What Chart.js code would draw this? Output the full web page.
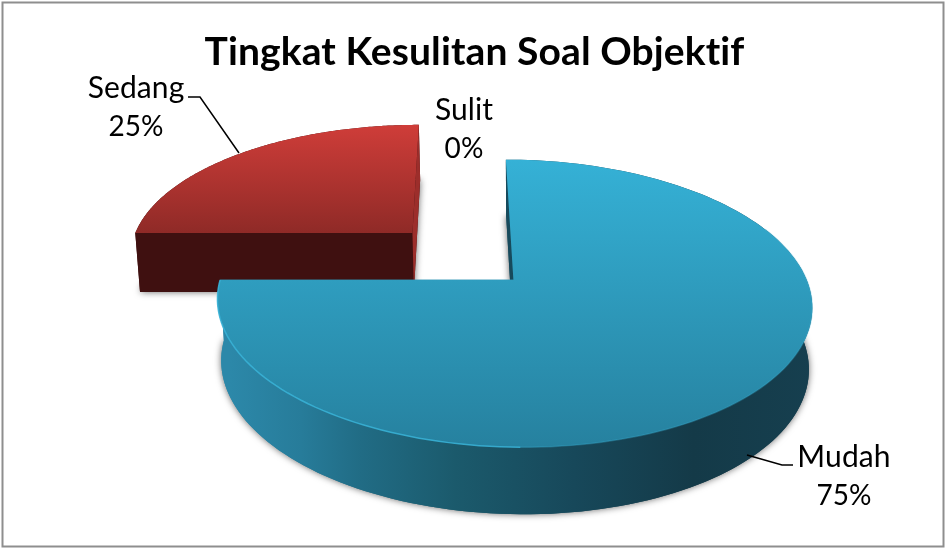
<!DOCTYPE html>
<html>
<head>
<meta charset="utf-8">
<style>
  html, body { margin: 0; padding: 0; background: #fff; }
  #wrap { width: 946px; height: 549px; }
</style>
<script src="https://cdn.jsdelivr.net/npm/chart.js@4/dist/chart.umd.js"></script>
</head>
<body>
<div id="wrap"><canvas id="pie" width="946" height="549"></canvas></div>
<script>
const chartTitle = "Tingkat Kesulitan Soal Objektif";
const categories = ["Mudah", "Sedang", "Sulit"];
const values = [75, 25, 0];

// perspective used to lay the flat pie down (one homography for all slices)
const VX = 460, VY = -572.8, KV = 0.1595, AX = 285, BY = 828.6, TX = 1.5;

function project(u, v) {
  const w = 1 - KV * v;
  return { x: VX + (AX * u + TX) / w, y: VY + BY / w };
}

// same point on the bottom of the slab
function lower(p) {
  return {
    x: p.x + 0.012 * (530 - p.x),
    y: p.y + 59 + (p.y - 233) * 8 / 214
  };
}

const looks = {
  Mudah: {
    top: [[0, "#35b1d6"], [1, "#26819f"]],
    wall: [[0.02, "#2c88a9"], [0.14, "#277c9a"], [0.24, "#216c85"], [0.4, "#1b5a6c"], [0.6, "#17485a"], [0.8, "#143a48"], [1, "#163f4f"]],
    rim: true,
    startWall: "#174a5c",
    endWall: "#2c88a9"
  },
  Sedang: {
    top: [[0, "#cf3d39"], [1, "#8f2a27"]],
    wall: [[0, "#3f1010"], [1, "#3f1010"]],
    rim: false,
    startWall: "#3f1010",
    endWall: "#9c2e2b"
  }
};

// label boxes and leader lines, in page pixels
const labelPlaces = {
  Mudah: { x: 844, y: 457, line: [[793, 465], [782, 465], [747, 455]] },
  Sedang: { x: 136, y: 88, line: [[188, 97], [200, 97], [239, 153]] },
  Sulit: { x: 464, y: 110, line: null }
};

function sliceOutline(arc) {
  const { startAngle, endAngle, outerRadius } = arc.getProps(["startAngle", "endAngle", "outerRadius"]);
  const mid = (startAngle + endAngle) / 2;
  const off = (arc.options.offset || 0) / outerRadius;
  const cu = off * Math.cos(mid), cv = off * Math.sin(mid);
  const rim = [];
  const steps = 160;
  for (let i = 0; i <= steps; i++) {
    const a = startAngle + (endAngle - startAngle) * i / steps;
    rim.push(project(cu + Math.cos(a), cv + Math.sin(a)));
  }
  return { corner: project(cu, cv), rim: rim, cv: cv };
}

function trace(ctx, pts) {
  pts.forEach((p, i) => i ? ctx.lineTo(p.x, p.y) : ctx.moveTo(p.x, p.y));
}

function polygon(ctx, pts, fill) {
  ctx.beginPath();
  trace(ctx, pts);
  ctx.closePath();
  ctx.fillStyle = fill;
  ctx.fill();
}

function gradient(ctx, x0, y0, x1, y1, stops) {
  const g = ctx.createLinearGradient(x0, y0, x1, y1);
  stops.forEach(s => g.addColorStop(s[0], s[1]));
  return g;
}

function drawSlice(ctx, s, look) {
  const topPts = [s.corner].concat(s.rim);
  const lowPts = topPts.map(lower);
  const xs = topPts.map(p => p.x), ys = topPts.map(p => p.y);
  const minX = Math.min(...xs), maxX = Math.max(...xs);
  const minY = Math.min(...ys), maxY = Math.max(...ys);
  const wallFill = gradient(ctx, minX, 0, maxX, 0, look.wall);

  // soft shadow from the bottom of the slab
  ctx.save();
  ctx.shadowColor = "rgba(0,0,0,0.6)";
  ctx.shadowBlur = 7;
  polygon(ctx, lowPts, wallFill);
  ctx.restore();

  polygon(ctx, s.rim.concat(s.rim.map(lower).reverse()), wallFill);

  const first = s.rim[0], last = s.rim[s.rim.length - 1];
  polygon(ctx, [s.corner, first, lower(first), lower(s.corner)], look.startWall);
  polygon(ctx, [s.corner, last, lower(last), lower(s.corner)], look.endWall);

  polygon(ctx, topPts, gradient(ctx, 0, minY, 0, maxY, look.top));

  if (look.rim) {
    // faint on the right, brighter on the lower left
    ctx.lineWidth = 1.5;
    ctx.beginPath();
    trace(ctx, s.rim.slice(40, 108));
    ctx.strokeStyle = "rgba(58,180,216,0.3)";
    ctx.stroke();
    ctx.beginPath();
    trace(ctx, s.rim.slice(107));
    ctx.strokeStyle = "rgba(58,180,216,0.85)";
    ctx.stroke();
  }
}

const slabPlugin = {
  id: "slab",
  beforeDraw(chart) {
    const ctx = chart.ctx;
    ctx.save();
    ctx.strokeStyle = "#8e8e8e";
    ctx.lineWidth = 2;
    ctx.strokeRect(2.5, 2.5, 941, 544);
    ctx.restore();
    // a little spacing keeps Lato from joining "ti" in the title
    ctx.letterSpacing = "0.1px";
  },
  // the flat arcs are replaced with the laid down version of the same arcs
  beforeDatasetDraw(chart, args) {
    const ctx = chart.ctx;
    const meta = args.meta;
    const parts = [];
    meta.data.forEach((arc, i) => {
      if (values[i] > 0) parts.push({ s: sliceOutline(arc), look: looks[categories[i]] });
    });
    parts.sort((a, b) => a.s.cv - b.s.cv);
    parts.forEach(p => drawSlice(ctx, p.s, p.look));
    return false;
  },
  afterDatasetsDraw(chart) {
    const ctx = chart.ctx;
    ctx.save();
    ctx.fillStyle = "#000";
    ctx.textAlign = "center";
    ctx.textBaseline = "middle";
    categories.forEach((name, i) => {
      const place = labelPlaces[name];
      ctx.font = "30px Lato";
      ctx.fillText(name, place.x, place.y);
      ctx.font = "28px Lato";
      ctx.fillText(values[i] + "%", place.x, place.y + 39);
      if (place.line) {
        ctx.beginPath();
        place.line.forEach((p, k) => k ? ctx.lineTo(p[0], p[1]) : ctx.moveTo(p[0], p[1]));
        ctx.strokeStyle = "#000";
        ctx.lineWidth = 1.5;
        ctx.stroke();
      }
    });
    ctx.restore();
  }
};

new Chart(document.getElementById("pie"), {
  type: "pie",
  data: {
    labels: categories,
    datasets: [{
      data: values,
      offset: [50, 50, 0],
      radius: 200,
      borderWidth: 0,
      backgroundColor: ["#2f9dbf", "#b23531", "#888888"]
    }]
  },
  options: {
    responsive: false,
    animation: false,
    layout: { padding: { left: 3 } },
    plugins: {
      legend: { display: false },
      tooltip: { enabled: false },
      title: {
        display: true,
        text: chartTitle,
        color: "#000",
        font: { family: "Lato", size: 39, weight: "bold" },
        padding: { top: 29, bottom: 10 }
      }
    }
  },
  plugins: [slabPlugin]
});
</script>
</body>
</html>
